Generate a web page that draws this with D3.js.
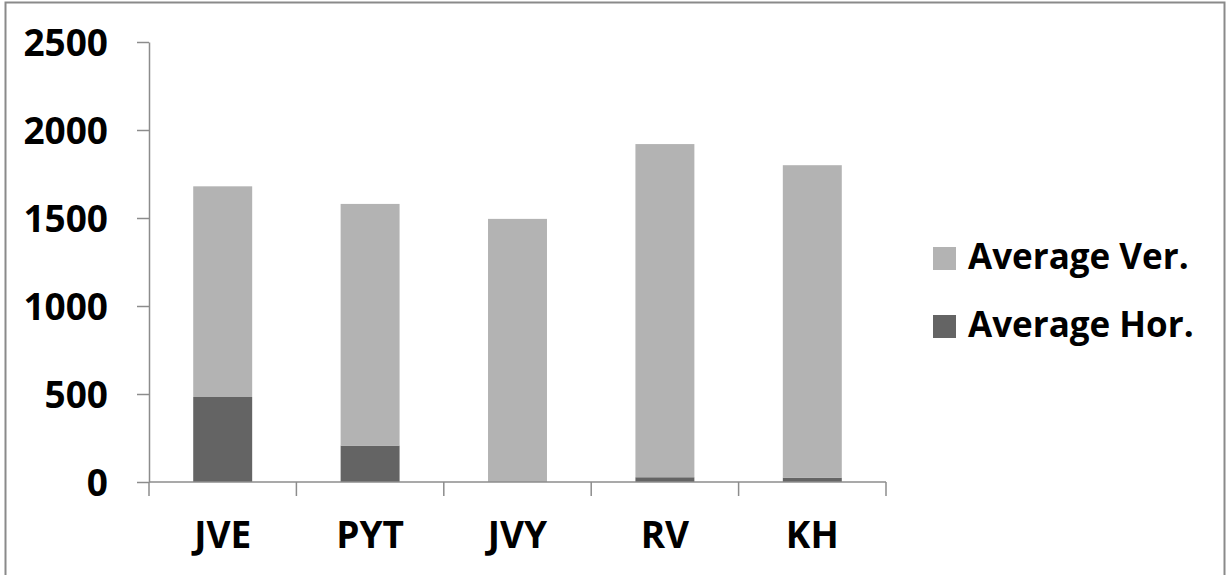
<!DOCTYPE html>
<html><head><meta charset="utf-8">
<script src="https://cdn.jsdelivr.net/npm/d3@7"></script>
<style>body{margin:0;background:#fff}svg{display:block}</style>
</head><body>
<svg id="c" width="1227" height="575"></svg>
<script>
const categories = ["JVE", "PYT", "JVY", "RV", "KH"];
const averageHor = [483, 207, 0, 27, 25];
const averageVer = [1197, 1373, 1495, 1893, 1775];
const yTicks = [0, 500, 1000, 1500, 2000, 2500];
const seriesNames = ["Average Hor.", "Average Ver."];
const legendOrder = ["Average Ver.", "Average Hor."];
const colors = {"Average Hor.": "#646464", "Average Ver.": "#b3b3b3"};

(function () {
const svg = d3.select("#c");
const FONT = "'Open Sans', Lato, sans-serif";
const pLeft = 149, pRight = 886, pTop = 42, pBottom = 482;

svg.append("rect").attr("x", 5.5).attr("y", 2.5).attr("width", 1219).attr("height", 580)
  .attr("fill", "#fff").attr("stroke", "#8a8a8a").attr("stroke-width", 2);

const x = d3.scaleBand().domain(categories).range([pLeft, pRight]).paddingInner(0.6).paddingOuter(0.3);
const y = d3.scaleLinear().domain([0, 2500]).range([pBottom, pTop]);

const rows = categories.map((c, i) => ({cat: c, "Average Hor.": averageHor[i], "Average Ver.": averageVer[i]}));
const stacked = d3.stack().keys(seriesNames)(rows);

svg.append("g").selectAll("g").data(stacked).join("g")
  .attr("fill", d => colors[d.key])
  .selectAll("rect").data(d => d).join("rect")
  .attr("x", d => x(d.data.cat))
  .attr("width", x.bandwidth())
  .attr("y", d => y(d[1]))
  .attr("height", d => y(d[0]) - y(d[1]));

// Y axis
const yAxis = svg.append("g").attr("transform", `translate(${pLeft},0)`)
  .call(d3.axisLeft(y).tickValues(yTicks).tickFormat(d3.format("d")).tickSize(12).tickSizeOuter(0).tickPadding(29));
yAxis.select(".domain").attr("stroke", "#8c8c8c").attr("stroke-width", 1.5);
yAxis.selectAll(".tick line").attr("stroke", "#8c8c8c").attr("stroke-width", 1.5);
yAxis.selectAll("text").attr("font-family", FONT).attr("font-weight", "bold")
  .attr("font-size", 37).attr("fill", "#000").attr("dy", "0.36em");

// X axis
const xAxisG = svg.append("g").attr("transform", `translate(0,${pBottom})`);
xAxisG.append("line").attr("x1", pLeft).attr("x2", pRight).attr("stroke", "#8c8c8c").attr("stroke-width", 1.5);
const edges = d3.range(categories.length + 1).map(i => pLeft + i * x.step());
xAxisG.selectAll("line.t").data(edges).join("line").attr("class", "t")
  .attr("x1", d => d).attr("x2", d => d).attr("y1", 0).attr("y2", 14)
  .attr("stroke", "#8c8c8c").attr("stroke-width", 1.5);
xAxisG.selectAll("text").data(categories).join("text")
  .attr("x", d => x(d) + x.bandwidth() / 2).attr("y", 66)
  .attr("text-anchor", "middle").attr("font-family", FONT).attr("font-weight", "bold")
  .attr("font-size", 37).attr("fill", "#000").text(d => d);

// Legend
const lg = svg.append("g");
legendOrder.forEach((name, i) => {
  const yy = 247 + i * 68;
  lg.append("rect").attr("x", 933).attr("y", yy).attr("width", 23).attr("height", 23).attr("fill", colors[name]);
  lg.append("text").attr("x", 968).attr("y", yy + 22).attr("font-family", FONT).attr("font-weight", "bold")
    .attr("font-size", 35).attr("fill", "#000").text(name);
});
})();
</script>
</body></html>
